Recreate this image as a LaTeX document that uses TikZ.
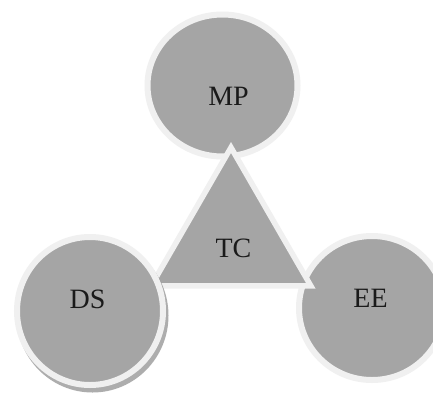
\documentclass[tikz,border=0pt]{standalone}
\usepackage{fontspec}
\setmainfont{Liberation Serif}
\definecolor{shapegray}{HTML}{A5A5A5}
\definecolor{rimgray}{HTML}{F0F0F0}
\definecolor{shadowgray}{HTML}{999999}
\definecolor{labelink}{HTML}{1A1A1A}
\begin{document}
\begin{tikzpicture}[x=1pt,y=-1pt,
  blob/.style={fill=shapegray,draw=rimgray,line width=6pt},
  tri/.style={fill=shapegray,draw=rimgray,line width=5.5pt,line join=miter},
  lbl/.style={inner sep=0pt,text=labelink,font=\fontsize{28}{34}\selectfont}]
\useasboundingbox (0,0) rectangle (433,394);
\fill[white] (0,0) rectangle (433,394);
% MP circle
\path[blob] (222.5,85.5) ellipse [x radius=75pt, y radius=71pt];
% EE circle
\path[blob] (372,308) ellipse [x radius=73pt, y radius=72pt];
% TC triangle
\path[tri] (231,147.5) -- (151.24,285.75) -- (310.76,285.75) -- cycle;
% DS shadow and circle
\fill[shadowgray,opacity=0.8] (92.5,315.5) ellipse [x radius=76pt, y radius=77pt];
\path[blob] (90,311) ellipse [x radius=73pt, y radius=74pt];
% labels
\node[lbl] (mp) at (228.5,96.5) {MP};
\node[lbl] (tc) at (233.5,248) {TC};
\node[lbl] (ds) at (87.5,299.5) {DS};
\node[lbl] (ee) at (370.5,298) {EE};
\end{tikzpicture}
\end{document}
